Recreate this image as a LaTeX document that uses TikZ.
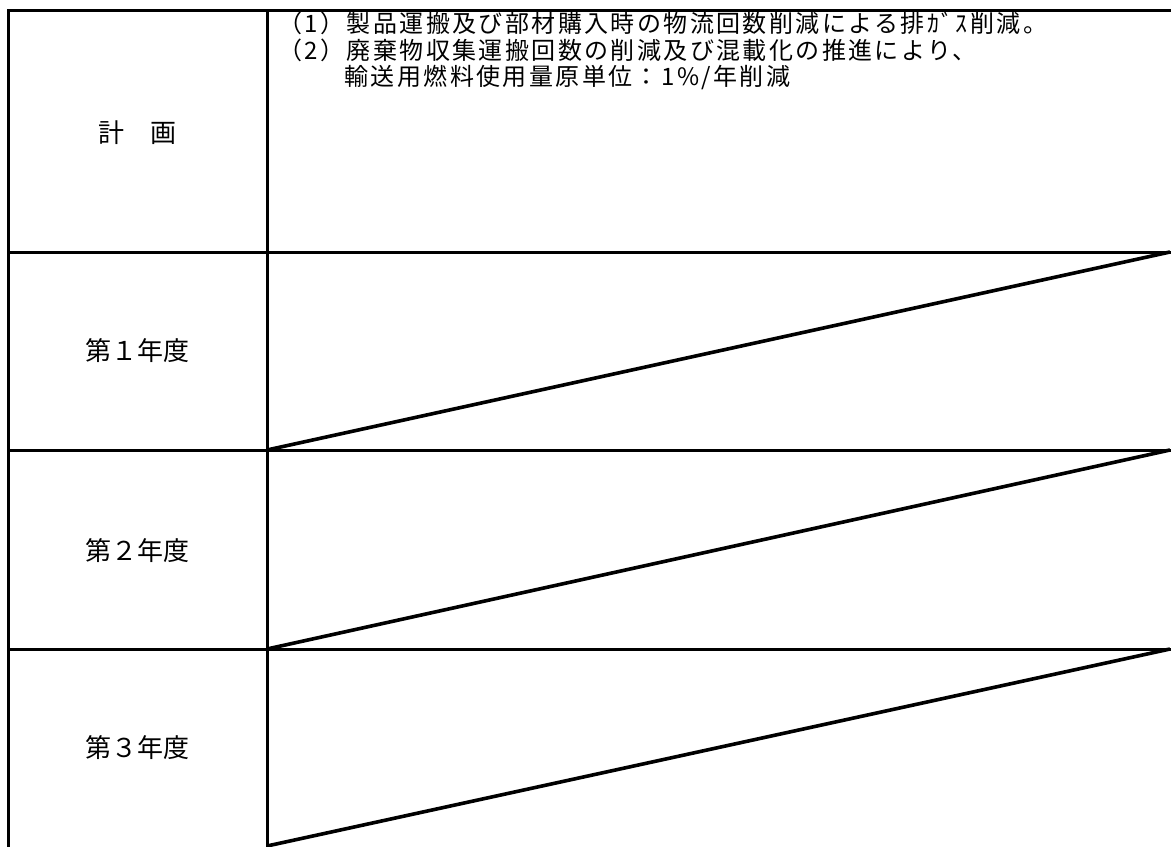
\documentclass[tikz,border=0pt]{standalone}
\usepackage{fontspec}
\setmainfont{Noto Sans CJK JP}
\newfontfamily\plainjp[LetterSpace=10]{Noto Sans CJK JP}
\usepackage{tikz}
\usetikzlibrary{calc}

\begin{document}
\begin{tikzpicture}[x=0.5pt,y=-0.5pt,
  rule/.style={line width=1.5pt,line cap=rect},
  slash/.style={line width=1.8pt},
  head/.style={font=\fontsize{13pt}{15pt}\selectfont},
  plantext/.style={font=\plainjp\fontsize{12pt}{13.25pt}\selectfont,align=left,anchor=north west,inner sep=0pt}]
\useasboundingbox (0,0) rectangle (1171,846);
\draw[rule] (1171,10) -- (8,10) -- (8,846);
\draw[rule] (267,10) -- (267,846);
\foreach \y in {252,450,649}
  \draw[rule] (8,\y) -- (1171,\y);
\foreach \top/\bot in {252/450,450/649,649/846}
  \draw[slash] (267,\bot) -- (1170,\top);
\node[head] (plan) at (137,133) {計　画};
\foreach \i/\n/\y in {1/１/351,2/２/551,3/３/748}
  \node[head] (year\i) at (137,\y) {第\n 年度};
\node[plantext] (plantxt) at (278,12) {（1）製品運搬及び部材購入時の物流回数削減による排ｶﾞｽ削減。\\
  （2）廃棄物収集運搬回数の削減及び混載化の推進により、\\
  \phantom{（2）}輸送用燃料使用量原単位：1\%/年削減};
\end{tikzpicture}
\end{document}
